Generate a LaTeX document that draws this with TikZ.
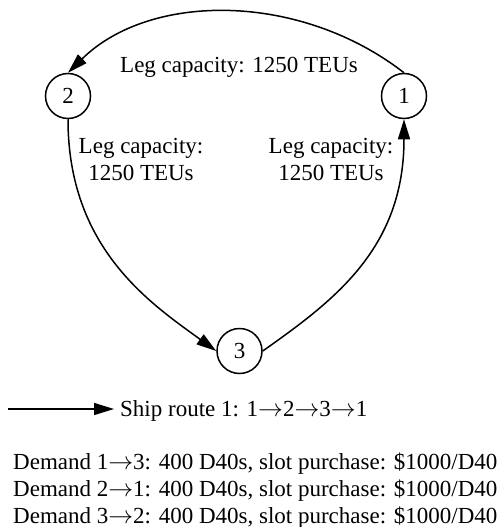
\documentclass[tikz,border=0pt]{standalone}
\usepackage{fontspec}
\setmainfont{Liberation Serif}
\usetikzlibrary{arrows.meta}
\newcommand{\ar}{\ensuremath{\rightarrow}}
\begin{document}
\begin{tikzpicture}[x=1pt,y=-1pt,
  port/.style={circle,draw,line width=1.5pt,minimum size=45pt,inner sep=0pt},
  leg/.style={line width=1.5pt,-{Triangle[length=20pt,width=12pt]}},
  txt/.style={inner sep=0pt,anchor=base west},
  every node/.append style={font=\fontsize{23}{27}\selectfont}]
\useasboundingbox (0,0) rectangle (499,527);
\node[port] (n1) at (404,96) {1};
\node[port] (n2) at (68,96) {2};
\node[port] (n3) at (239.5,351) {3};
\draw[leg] (n1.north) .. controls (300,-8) and (150,-8) .. (n2.north);
\draw[leg] (n2.south) .. controls (68,248) and (150,303) .. (n3.west);
\draw[leg] (n3.east) .. controls (335,300) and (404,248) .. (n1.south);
\node[txt] (l12) at (120,72) {Leg capacity: 1250 TEUs};
\node[inner sep=0pt,align=center,anchor=base] (l23) at (141,180) {Leg capacity:\\1250 TEUs};
\node[inner sep=0pt,align=center,anchor=base] (l31) at (331,180) {Leg capacity:\\1250 TEUs};
\coordinate (ls) at (8,409);
\coordinate (le) at (114,409);
\node[txt] (route) at (120,416) {Ship route 1: 1\ar2\ar3\ar1};
\draw[leg] (ls) -- (le);
\node[txt] (d1) at (13,469) {Demand 1\ar3: 400 D40s, slot purchase: \$1000/D40};
\node[txt] (d2) at (13,496) {Demand 2\ar1: 400 D40s, slot purchase: \$1000/D40};
\node[txt] (d3) at (13,523) {Demand 3\ar2: 400 D40s, slot purchase: \$1000/D40};
\end{tikzpicture}
\end{document}
